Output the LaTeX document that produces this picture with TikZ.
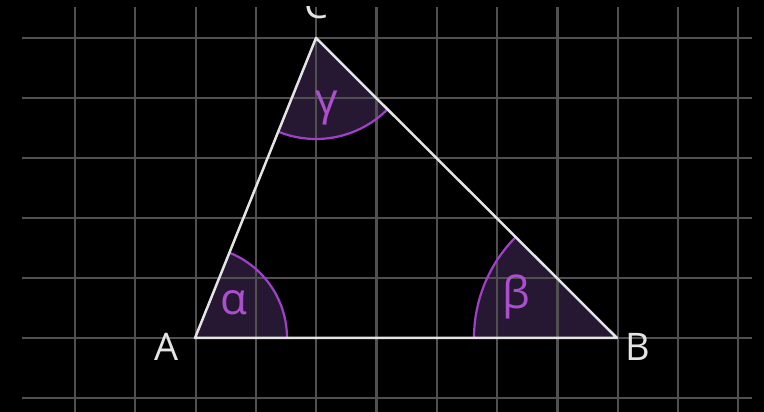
\documentclass[tikz,border=0pt]{standalone}
\usepackage{fontspec}
\setmainfont{Open Sans}
\usetikzlibrary{calc}
\definecolor{gridgray}{RGB}{80,80,80}
\definecolor{edgewhite}{RGB}{228,228,228}
\definecolor{arcpurple}{RGB}{160,64,200}
\definecolor{sectorfill}{RGB}{38,24,50}
\definecolor{greekpurple}{RGB}{170,80,205}
\tikzset{
  gridline/.style={draw=gridgray, line width=2.2pt},
  edge/.style={draw=edgewhite, line width=2.5pt, line join=round},
  sector/.style={fill=sectorfill},
  anglearc/.style={draw=arcpurple, line width=2.2pt},
  vertexlabel/.style={text=edgewhite, font=\fontsize{38}{44}\selectfont, inner sep=0pt},
  greeklabel/.style={text=greekpurple, font=\fontsize{44}{50}\selectfont, inner sep=0pt},
}
\begin{document}
\begin{tikzpicture}[x=1pt,y=1pt]
\useasboundingbox (0,0) rectangle (764,412);
\fill[black] (0,0) rectangle (764,412);
\clip (0,0) rectangle (764,412);
\coordinate (A) at (195,74);
\coordinate (B) at (617,74);
\coordinate (C) at (316,374);
% sectors
\fill[sector] (A) -- ++(0:92) arc[start angle=0,end angle=68.03,radius=92] -- cycle;
\fill[sector] (B) -- ++(135.1:143) arc[start angle=135.1,end angle=180,radius=143] -- cycle;
\fill[sector] (C) -- ++(248.03:101) arc[start angle=248.03,end angle=315.1,radius=101] -- cycle;
% grid
\foreach \gx in {75,135.3,195.6,255.9,316.2,376.5,436.8,497.1,557.4,617.7,678,738.3}
  \draw[gridline] (\gx,405) -- (\gx,0);
\foreach \gy in {374,314,254,194,134,74,14}
  \draw[gridline] (22,\gy) -- (752,\gy);
% arcs
\draw[anglearc] ($(A)+(0:92)$) arc[start angle=0,end angle=68.03,radius=92];
\draw[anglearc] ($(B)+(135.1:143)$) arc[start angle=135.1,end angle=180,radius=143];
\draw[anglearc] ($(C)+(248.03:101)$) arc[start angle=248.03,end angle=315.1,radius=101];
% triangle
\draw[edge] (A) -- (B) -- (C) -- cycle;
% labels
\node[vertexlabel] (la) at (167,65) {A};
\node[vertexlabel] (lb) at (638,65) {B};
\node[vertexlabel] (lc) at (316,407) {C};
\fill[black] (0,406) rectangle (764,412);
\node[greeklabel] (al) at (234,109) {α};
\node[greeklabel] (be) at (516,115) {β};
\node[greeklabel] (ga) at (327,304) {γ};
\end{tikzpicture}
\end{document}
